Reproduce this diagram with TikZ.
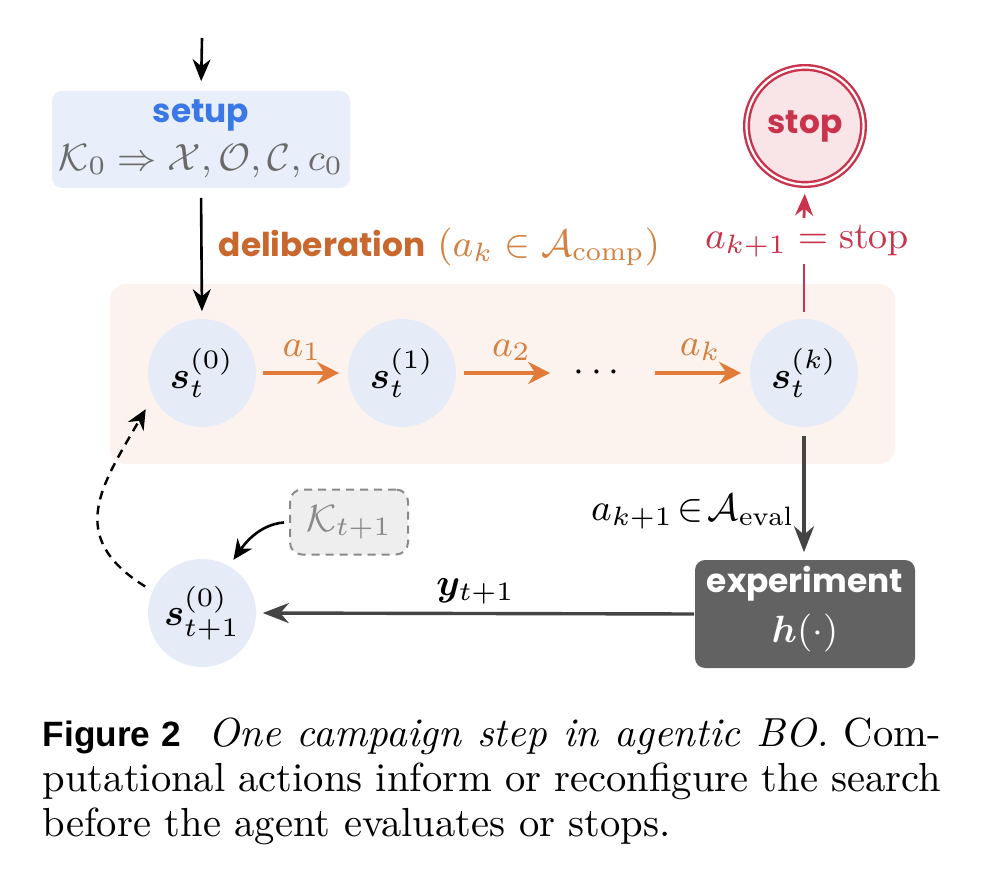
\RequirePackage{fix-cm}
\documentclass[tikz,border=0pt]{standalone}
\usepackage{amsmath,amssymb,bm}
\usepackage{fontspec}
\newfontfamily\pop{Poppins}
\newfontfamily\figfont{Liberation Sans}
\usetikzlibrary{arrows.meta}
\definecolor{setupblue}{HTML}{3B78E7}
\definecolor{setupfill}{HTML}{E8EEFA}
\definecolor{nodefill}{HTML}{E5ECF8}
\definecolor{orangeA}{HTML}{E07B39}
\definecolor{orangeT}{HTML}{C8672E}
\definecolor{orangeM}{HTML}{D4803F}
\definecolor{panelfill}{HTML}{FDF3EE}
\definecolor{stopred}{HTML}{C9334C}
\definecolor{stopfill}{HTML}{F9E4E8}
\definecolor{darkg}{HTML}{444444}
\definecolor{expfill}{HTML}{626262}
\definecolor{kfill}{HTML}{EEEEEE}
\definecolor{kgray}{HTML}{8A8A8A}
\definecolor{mathgray}{HTML}{6A6A6A}
\tikzset{
  mfont/.style={font=\fontsize{9.5}{11}\selectfont},
  sfont/.style={font=\fontsize{8.2}{10}\selectfont\pop\bfseries},
  state/.style={circle, fill=nodefill, minimum size=27pt, inner sep=0pt, mfont},
  blkarrow/.style={draw=black, line width=0.65pt, -{Stealth[length=5.5pt,width=4.5pt]}},
  darkarrow/.style={draw=darkg, line width=0.85pt, -{Stealth[length=6.5pt,width=5pt]}},
  orarrow/.style={draw=orangeA, line width=1pt, -{Stealth[length=5.5pt,width=5.5pt]}},
  redline/.style={draw=stopred, line width=0.7pt},
  lbl/.style={inner sep=0pt, mfont},
}
\begin{document}
\begin{tikzpicture}[x=0.25pt,y=-0.25pt]
\path[use as bounding box, fill=white] (0,0) rectangle (984,876);
% panel
\node[fill=panelfill, rounded corners=4pt, minimum width=196.25pt, minimum height=45pt, inner sep=0pt] (panel) at (502.5,374) {};
% setup
\node[fill=setupfill, rounded corners=2.5pt, minimum width=74.5pt, minimum height=24.25pt, inner sep=0pt] (setup) at (201,139.5) {};
\node[sfont, text=setupblue, inner sep=0pt] (setupt) at (201,115) {setup};
\node[lbl, text=mathgray] (setupm) at (201,161) {$\mathcal{K}_0 \Rightarrow \mathcal{X},\mathcal{O},\mathcal{C},c_0$};
\coordinate (topin) at (202,38);
\draw[blkarrow, shorten >=2.25pt] (topin) -- (setup.north);
% states
\node[state] (s0) at (202,373) {$\bm{s}_t^{(0)}$};
\node[state] (s1) at (402,373) {$\bm{s}_t^{(1)}$};
\node[lbl] (dots) at (600,373) {$\cdots$};
\node[state] (sk) at (804,373) {$\bm{s}_t^{(k)}$};
\node[state] (s2) at (202,613) {$\bm{s}_{t+1}^{(0)}$};
\draw[blkarrow, shorten <=2.25pt, shorten >=1.75pt] (setup.south) -- (s0.north);
% deliberation label
\node[anchor=west, inner sep=0pt] (delib) at (218,247) {{\fontsize{8.2}{10}\selectfont\pop\bfseries\color{orangeT}deliberation}\hspace{3pt}{\fontsize{9.5}{11}\selectfont\color{orangeM}$(a_k \in \mathcal{A}_{\mathrm{comp}})$}};
% orange arrows
\draw[orarrow, shorten <=1.5pt, shorten >=2pt] (s0) -- (s1) node[midway, yshift=5.75pt, lbl, text=orangeM] (la1) {$a_1$};
\draw[orarrow, shorten <=1.75pt, shorten >=5.75pt] (s1) -- (dots) node[pos=0.47, yshift=5.75pt, lbl, text=orangeM] (la2) {$a_2$};
\draw[orarrow, shorten <=7pt, shorten >=2pt] (dots) -- (sk) node[pos=0.6, yshift=5.75pt, lbl, text=orangeM] (lak) {$a_k$};
% stop
\node[circle, draw=stopred, line width=0.6pt, double=white, double distance=0.55pt, fill=stopfill, minimum size=29.25pt, inner sep=0pt, sfont, text=stopred] (stop) at (805,126) {stop};
\node[fill=white, inner sep=1.5pt, mfont, text=stopred] (stoplbl) at (807,241) {$a_{k+1} = \mathrm{stop}$};
\draw[redline, shorten <=1.5pt] (sk.north) -- (sk.north |- stoplbl.south);
\draw[redline, -{Stealth[length=5.5pt,width=4.5pt]}, shorten >=2pt] (sk.north |- stoplbl.north) -- (stop.south);
% experiment
\node[fill=expfill, rounded corners=2.5pt, minimum width=55pt, minimum height=27pt, inner sep=0pt] (exp) at (805,614) {};
\node[sfont, text=white, inner sep=0pt] (expt) at (805,584) {experiment};
\node[lbl, text=white] (expm) at (805,633) {$\bm{h}(\cdot)$};
\draw[darkarrow, shorten <=2pt, shorten >=1.75pt] (sk.south) -- (sk.south |- exp.north);
\node[lbl, anchor=east] (evallbl) at (795,512) {$a_{k+1}\!\in\!\mathcal{A}_{\mathrm{eval}}$};
\draw[darkarrow, shorten >=1.5pt] (exp.west) -- (s2.east) node[midway, yshift=5.5pt, lbl] (ly) {$\bm{y}_{t+1}$};
% K box
\node[fill=kfill, draw=kgray, dash pattern=on 2pt off 1.5pt, line width=0.5pt, rounded corners=3pt, minimum width=29.5pt, minimum height=16.25pt, inner sep=0pt, mfont, text=kgray] (K) at (349,522) {$\mathcal{K}_{t+1}$};
\draw[line width=0.65pt, -{Stealth[length=5pt,width=4.5pt]}, shorten <=1.25pt, shorten >=1.75pt] (K.west) to[out=185,in=55] (s2.60);
% dashed feedback
\draw[line width=0.6pt, dash pattern=on 2.2pt off 1.6pt, -{Stealth[length=5pt,width=4.5pt]}, shorten <=2pt, shorten >=3.5pt] (s2.156) to[out=148,in=240,looseness=1.35] (s0.206);
% caption
\node[anchor=north west, inner sep=0pt, text width=224.5pt, align=justify, font=\fontsize{10.15}{11.25}\selectfont] (cap) at (42,717) {{\figfont\bfseries\fontsize{8.8}{11.25}\selectfont Figure 2}\hspace{3pt} \textit{One campaign step in agentic BO.} Com-\linebreak putational actions inform or reconfigure the search\linebreak before the agent evaluates or stops.};
\end{tikzpicture}
\end{document}
